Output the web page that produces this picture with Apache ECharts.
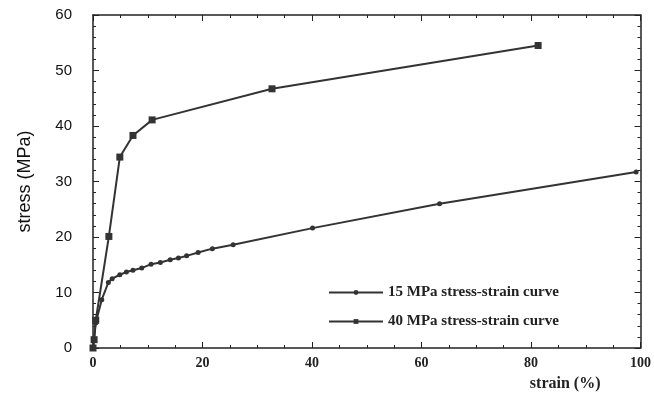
<!DOCTYPE html>
<html>
<head>
<meta charset="utf-8">
<script src="https://cdn.jsdelivr.net/npm/echarts@6/dist/echarts.min.js"></script>
<style>
  html, body { margin: 0; padding: 0; background: #fff; }
  #chartBox { width: 654px; height: 403px; }
</style>
</head>
<body>
<div id="chartBox"></div>
<script>
// 15 MPa curve (strain %, stress MPa)
const strain15 = [0, 0.2, 0.5, 1.6, 2.8, 3.5, 4.9, 6.1, 7.3, 8.9, 10.6, 12.3, 14.1, 15.6, 17.1, 19.2, 21.8, 25.6, 40.1, 63.3, 99.2];
const stress15 = [0, 1.5, 4.5, 8.7, 11.8, 12.5, 13.2, 13.7, 14.0, 14.4, 15.1, 15.4, 15.9, 16.2, 16.6, 17.2, 17.9, 18.6, 21.6, 26.0, 31.7];
// 40 MPa curve
const strain40 = [0, 0.2, 0.5, 2.9, 4.9, 7.3, 10.8, 32.7, 81.3];
const stress40 = [0, 1.5, 5.0, 20.1, 34.4, 38.3, 41.1, 46.7, 54.5];
const xTicks = [0, 20, 40, 60, 80, 100];
const yTicks = [0, 10, 20, 30, 40, 50, 60];

const chartDom = document.getElementById("chartBox");
const myChart = echarts.init(chartDom);

const lineColor = '#333';
const serif = '"Liberation Serif", "DejaVu Serif", serif';
const sans = '"Liberation Sans", Arial, sans-serif';

function pairs(xs, ys) {
    return xs.map((x, i) => [x, ys[i]]);
}

const axisCommon = {
    type: 'value',
    axisLine: { show: true, onZero: false, lineStyle: { color: '#222', width: 1.5 } },
    axisTick: { show: true, inside: true, length: 6, lineStyle: { color: '#222' } },
    splitLine: { show: false },
};
const xMinor = { show: true, splitNumber: 4, length: 3, lineStyle: { color: '#222' } };
const yMinor = { show: true, splitNumber: 5, length: 3, lineStyle: { color: '#222' } };

let option = {
    animation: false,
    backgroundColor: '#fff',
    grid: { left: 93, right: 12, top: 15, bottom: 55 },
    legend: {
        orient: 'vertical',
        left: 323,
        top: 280,
        itemWidth: 54,
        itemHeight: 6,
        itemGap: 14,
        textStyle: { fontFamily: serif, fontWeight: 'bold', fontSize: 15, color: '#222' },
        data: ['15 MPa stress-strain curve', '40 MPa stress-strain curve'],
    },
    xAxis: [
        Object.assign({}, axisCommon, {
            min: xTicks[0], max: xTicks[xTicks.length - 1], interval: 20,
            position: 'bottom',
            minorTick: xMinor,
            axisLabel: {
                margin: 8, fontFamily: serif, fontWeight: 'bold', fontSize: 14, color: '#222',
                formatter: v => xTicks.includes(v) ? String(v) : '',
            },
            name: 'strain (%)',
            nameLocation: 'end',
            nameGap: 0,
            nameTextStyle: {
                fontFamily: serif, fontWeight: 'bold', fontSize: 16, color: '#222',
                align: 'right', verticalAlign: 'top', padding: [28, 40, 0, 0],
            },
        }),
        Object.assign({}, axisCommon, {
            min: 0, max: 100, interval: 20, position: 'top',
            minorTick: xMinor,
            axisLabel: { show: false },
        }),
    ],
    yAxis: [
        Object.assign({}, axisCommon, {
            min: yTicks[0], max: yTicks[yTicks.length - 1], interval: 10,
            position: 'left',
            minorTick: yMinor,
            axisLabel: {
                margin: 21, fontFamily: sans, fontSize: 15, color: '#111',
            },
            name: 'stress (MPa)',
            nameLocation: 'middle',
            nameGap: 59,
            nameTextStyle: {
                fontFamily: sans, fontSize: 18, color: '#111',
            },
        }),
        Object.assign({}, axisCommon, {
            min: 0, max: 60, interval: 10, position: 'right',
            minorTick: yMinor,
            axisLabel: { show: false },
        }),
    ],
    series: [
        {
            name: '15 MPa stress-strain curve',
            type: 'line',
            xAxisIndex: 0, yAxisIndex: 0,
            symbol: 'circle',
            symbolSize: 5,
            itemStyle: { color: lineColor },
            lineStyle: { width: 2, color: lineColor },
            data: pairs(strain15, stress15),
        },
        {
            name: '40 MPa stress-strain curve',
            type: 'line',
            xAxisIndex: 0, yAxisIndex: 0,
            symbol: 'rect',
            symbolSize: 7,
            itemStyle: { color: lineColor },
            lineStyle: { width: 2, color: lineColor },
            data: pairs(strain40, stress40),
        },
    ],
};
myChart.setOption(option);
</script>
</body>
</html>
